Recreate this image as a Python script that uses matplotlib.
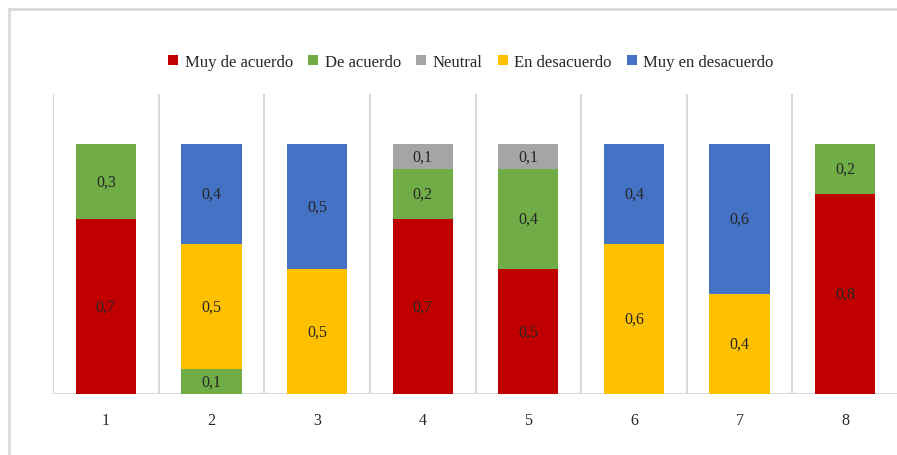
import matplotlib
matplotlib.use("Agg")
import matplotlib.pyplot as plt
from matplotlib.patches import Rectangle
import numpy as np

categories = ["1", "2", "3", "4", "5", "6", "7", "8"]
series_names = ["Muy de acuerdo", "De acuerdo", "Neutral", "En desacuerdo", "Muy en desacuerdo"]
muy_de_acuerdo = [0.7, 0.0, 0.0, 0.7, 0.5, 0.0, 0.0, 0.8]
de_acuerdo = [0.3, 0.1, 0.0, 0.2, 0.4, 0.0, 0.0, 0.2]
neutral = [0.0, 0.0, 0.0, 0.1, 0.1, 0.0, 0.0, 0.0]
en_desacuerdo = [0.0, 0.5, 0.5, 0.0, 0.0, 0.6, 0.4, 0.0]
muy_en_desacuerdo = [0.0, 0.4, 0.5, 0.0, 0.0, 0.4, 0.6, 0.0]
colors = ["#C00000", "#70AD47", "#A5A5A5", "#FFC000", "#4472C4"]

series = [muy_de_acuerdo, de_acuerdo, neutral, en_desacuerdo, muy_en_desacuerdo]

plt.rcParams['font.family'] = ['Liberation Serif', 'DejaVu Serif']

W, H = 897, 456
fig = plt.figure(figsize=(W / 100, H / 100), dpi=100)
# outer border
fig.patches.append(Rectangle((8.5 / W, -0.05), 1.1, 1 - 9.5 / H + 0.05, transform=fig.transFigure,
                             fill=False, edgecolor="#d9d9d9", linewidth=2, zorder=0))

ax = fig.add_axes([53 / W, 61 / H, 845 / W, 300 / H])
x = np.arange(len(categories))
bottom = np.zeros(len(categories))
for name, vals, c in zip(series_names, series, colors):
    vals = np.array(vals)
    bars = ax.bar(x, vals, width=0.57, bottom=bottom, color=c, label=name, zorder=3)
    for xi, v, b in zip(x, vals, bottom):
        if v > 0:
            ax.text(xi, b + v / 2, f"{v:.1f}".replace(".", ","), ha="center", va="center",
                    fontsize=11.5, color="#262626", zorder=4)
    bottom += vals

ax.set_xlim(-0.5, len(categories) - 0.5)
ax.set_ylim(0, 1.2)
for xv in np.arange(-0.5, len(categories), 1.0):
    ax.axvline(xv, color="#d9d9d9", linewidth=1.5, zorder=1)
ax.axhline(0, color="#d9d9d9", linewidth=1.5, zorder=2)
for s in ax.spines.values():
    s.set_visible(False)
ax.set_yticks([])
ax.set_xticks(x)
ax.set_xticklabels(categories, fontsize=11.5, color="#262626")
ax.tick_params(axis="x", length=0, pad=13)

fig.legend(loc="center", bbox_to_anchor=(471 / W, 1 - 63 / H), ncol=5, frameon=False,
           fontsize=12, handlelength=0.6, handleheight=0.6, handletextpad=0.4,
           columnspacing=0.9, labelcolor="#262626")

fig.savefig("out.png", dpi=100)
